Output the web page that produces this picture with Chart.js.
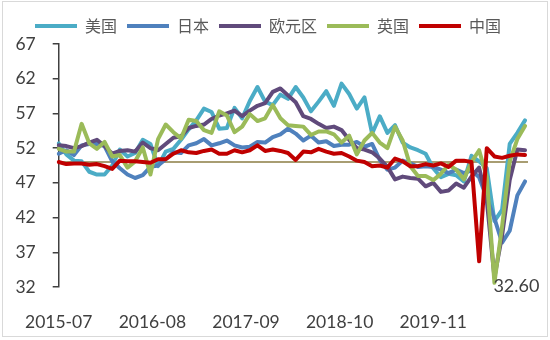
<!DOCTYPE html>
<html>
<head>
<meta charset="utf-8">
<script src="https://cdn.jsdelivr.net/npm/chart.js@4/dist/chart.umd.min.js"></script>
<style>
  html, body { margin: 0; padding: 0; background: #fff; }
  #wrap { width: 550px; height: 340px; }
</style>
</head>
<body>
<div id="wrap"><canvas id="pmi"></canvas></div>
<script>
// monthly manufacturing PMI, 2015-07 .. 2020-08
const months = [
  "2015-07", "2015-08", "2015-09", "2015-10", "2015-11", "2015-12",
  "2016-01", "2016-02", "2016-03", "2016-04", "2016-05", "2016-06",
  "2016-07", "2016-08", "2016-09", "2016-10", "2016-11", "2016-12",
  "2017-01", "2017-02", "2017-03", "2017-04", "2017-05", "2017-06",
  "2017-07", "2017-08", "2017-09", "2017-10", "2017-11", "2017-12",
  "2018-01", "2018-02", "2018-03", "2018-04", "2018-05", "2018-06",
  "2018-07", "2018-08", "2018-09", "2018-10", "2018-11", "2018-12",
  "2019-01", "2019-02", "2019-03", "2019-04", "2019-05", "2019-06",
  "2019-07", "2019-08", "2019-09", "2019-10", "2019-11", "2019-12",
  "2020-01", "2020-02", "2020-03", "2020-04", "2020-05", "2020-06",
  "2020-07", "2020-08"
];

const usa = [
  52.7, 51.1, 50.2, 50.1, 48.6, 48.2,
  48.2, 49.5, 51.8, 50.8, 51.3, 53.2, 52.6, 49.4, 51.5, 51.9, 53.2, 54.7,
  56.0, 57.7, 57.2, 54.8, 54.9, 57.8, 56.3, 58.8, 60.8, 58.7, 58.2, 59.7,
  59.1, 60.8, 59.3, 57.3, 58.7, 60.2, 58.1, 61.3, 59.8, 57.7, 59.3, 54.1,
  56.6, 54.2, 55.3, 52.8, 52.1, 51.7, 51.2, 49.1, 47.8, 48.3, 48.1, 47.2,
  50.9, 50.1, 49.1, 41.5, 43.1, 52.6, 54.2, 56.0
];
const japan = [
  51.2, 51.7, 51.0, 52.4, 52.6, 52.6,
  52.3, 50.1, 49.1, 48.2, 47.7, 48.1, 49.3, 49.5, 50.4, 51.4, 51.3, 52.4,
  52.7, 53.3, 52.4, 52.7, 53.1, 52.4, 52.1, 52.2, 52.9, 52.8, 53.6, 54.0,
  54.8, 54.1, 53.1, 53.8, 52.8, 53.0, 52.3, 52.5, 52.5, 52.9, 52.2, 52.6,
  50.3, 48.9, 49.2, 50.2, 49.8, 49.3, 49.4, 49.3, 48.9, 48.4, 48.9, 48.4,
  48.8, 47.8, 44.8, 41.9, 38.4, 40.1, 45.2, 47.2
];
const eurozone = [
  52.4, 52.3, 52.0, 52.3, 52.8, 53.2,
  52.3, 51.2, 51.6, 51.7, 51.5, 52.8, 52.0, 51.7, 52.6, 53.5, 53.7, 54.9,
  55.2, 55.4, 56.2, 56.7, 57.0, 57.4, 56.6, 57.4, 58.1, 58.5, 60.1, 60.6,
  59.6, 58.6, 56.6, 56.2, 55.5, 54.9, 55.1, 54.6, 53.2, 52.0, 51.8, 51.4,
  50.5, 49.3, 47.5, 47.9, 47.7, 47.6, 46.5, 47.0, 45.7, 45.9, 46.9, 46.3,
  47.9, 49.2, 44.5, 33.4, 39.4, 47.4, 51.8, 51.7
];
const uk = [
  51.9, 51.5, 51.5, 55.5, 52.7, 51.9,
  52.9, 50.8, 51.0, 49.2, 50.1, 52.1, 48.2, 53.3, 55.4, 54.3, 53.4, 56.1,
  55.9, 54.6, 54.2, 57.3, 56.7, 54.3, 55.1, 56.9, 55.9, 56.3, 58.2, 56.3,
  55.3, 55.2, 55.1, 53.9, 54.4, 54.4, 54.0, 52.8, 53.8, 51.1, 53.1, 54.2,
  52.8, 52.0, 55.1, 53.1, 49.4, 48.0, 48.0, 47.4, 48.3, 49.6, 48.9, 47.5,
  50.0, 51.7, 47.8, 32.6, 40.7, 50.1, 53.3, 55.2
];
const china = [
  50.0, 49.7, 49.8, 49.8, 49.6, 49.7,
  49.4, 49.0, 50.2, 50.1, 50.1, 50.0, 49.9, 50.4, 50.4, 51.2, 51.7, 51.4,
  51.3, 51.6, 51.8, 51.2, 51.2, 51.7, 51.4, 51.7, 52.4, 51.6, 51.8, 51.6,
  51.3, 50.3, 51.5, 51.4, 51.9, 51.5, 51.2, 51.3, 50.8, 50.2, 50.0, 49.4,
  49.5, 49.2, 50.5, 50.1, 49.4, 49.4, 49.7, 49.5, 49.8, 49.3, 50.2, 50.2,
  50.0, 35.7, 52.0, 50.8, 50.6, 50.9, 51.1, 51.0
];

const seriesNames = ["美国", "日本", "欧元区", "英国", "中国"];
const seriesColors = ["#4BACC6", "#4F81BD", "#604A7B", "#9BBB59", "#C00000"];
const xTickLabels = ["2015-07", "2016-08", "2017-09", "2018-10", "2019-11"];
const yMin = 32;
const yMax = 67;
const yStep = 5;
const baseline = 50;       // expansion / contraction line
const labelledMonth = "2020-04";  // UK low gets a value label

const numFont = { family: "Lato, 'Open Sans', sans-serif", size: 17.5 };
const inkColor = "#404040";

const extras = {
  id: "extras",
  beforeDatasetsDraw(chart) {
    const { ctx, chartArea, scales } = chart;
    const py = scales.y.getPixelForValue(baseline);
    ctx.save();
    ctx.strokeStyle = "#A89D72";
    ctx.lineWidth = 2;
    ctx.beginPath();
    ctx.moveTo(chartArea.left, py);
    ctx.lineTo(chartArea.right + 3, py);
    ctx.stroke();
    ctx.restore();
  },
  afterDatasetsDraw(chart) {
    const { ctx } = chart;
    const idx = months.indexOf(labelledMonth);
    const pt = chart.getDatasetMeta(3).data[idx];
    ctx.save();
    ctx.font = `18px ${numFont.family}`;
    ctx.fillStyle = inkColor;
    ctx.textAlign = "left";
    ctx.textBaseline = "middle";
    ctx.fillText(uk[idx].toFixed(2), pt.x - 1, pt.y + 3);
    ctx.restore();
  },
  afterDraw(chart) {
    const { ctx, width, height } = chart;
    ctx.save();
    ctx.strokeStyle = "#D9D9D9";
    ctx.lineWidth = 1;
    ctx.strokeRect(2.5, 1.5, width - 5, height - 5);
    ctx.restore();
  }
};

const seriesData = [usa, japan, eurozone, uk, china];

new Chart(document.getElementById("pmi"), {
  type: "line",
  data: {
    labels: months,
    datasets: seriesData.map((values, i) => ({
      label: seriesNames[i],
      data: values,
      borderColor: seriesColors[i],
      backgroundColor: seriesColors[i],
      borderWidth: 4,
      borderCapStyle: "round",
      borderJoinStyle: "round",
      pointRadius: 0,
      tension: 0,
      order: seriesData.length - i   // later series sit on top
    }))
  },
  options: {
    responsive: true,
    maintainAspectRatio: false,
    animation: false,
    events: [],
    layout: { padding: { left: 5, right: 19, top: 8, bottom: 7 } },
    plugins: {
      tooltip: { enabled: false },
      legend: {
        position: "top",
        labels: {
          usePointStyle: true,
          pointStyle: "line",
          pointStyleWidth: 42,
          padding: 10,
          color: "#595959",
          font: { family: "'Noto Sans CJK SC', sans-serif", size: 16 },
          sort: (a, b) => a.datasetIndex - b.datasetIndex
        }
      }
    },
    scales: {
      x: { type: "category", display: false },
      x2: {
        type: "linear",
        position: "bottom",
        min: 0,
        max: months.length - 1,
        border: { display: false },
        grid: { display: false, drawTicks: false },
        ticks: {
          stepSize: 12.25,
          autoSkip: false,
          maxRotation: 0,
          padding: 25,
          color: inkColor,
          font: numFont,
          callback: (v, i) => xTickLabels[i] ?? ""
        },
        afterFit: (scale) => { scale.height = 46; }
      },
      y: {
        min: yMin,
        max: yMax,
        border: { display: true, color: inkColor, width: 1.5 },
        grid: { drawOnChartArea: false, drawTicks: true, tickLength: 6, color: inkColor, lineWidth: 1.5 },
        ticks: { stepSize: yStep, padding: 17, color: inkColor, font: numFont },
        afterFit: (scale) => { scale.width = 43; }
      }
    }
  },
  plugins: [extras]
});
</script>
</body>
</html>
